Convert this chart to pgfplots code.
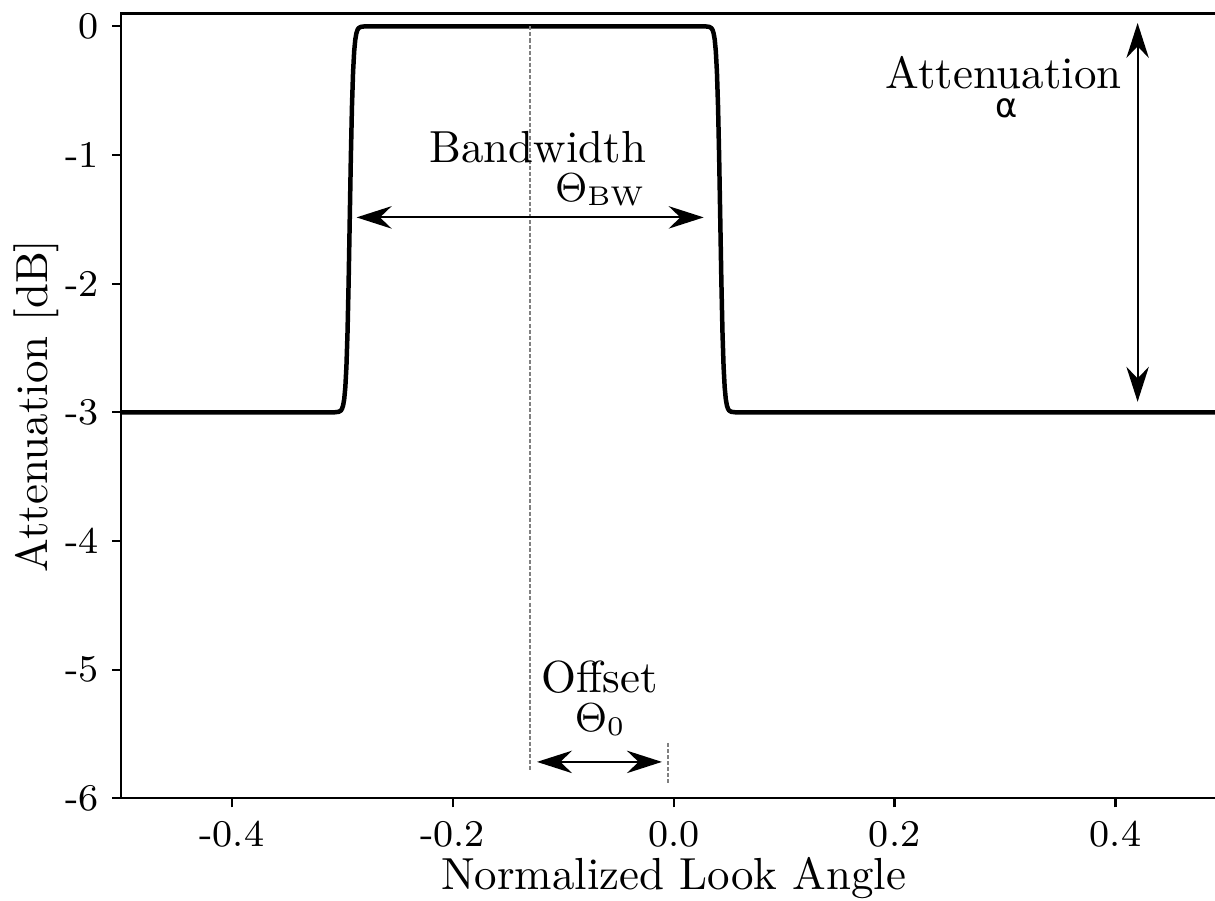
\documentclass[border=0pt]{standalone}
\usepackage{fontspec}
\newfontfamily\dejavu{DejaVu Sans}
\usepackage{pgfplots}
\usepackage{pgfplotstable}
\pgfplotsset{compat=1.18}
\usetikzlibrary{arrows.meta}

% Beam response of the window: -3 dB outside, 0 dB inside, with smooth edges
\pgfplotstableread{
x y
-0.5000 -3.000
-0.3072 -3.000
-0.3032 -2.996
-0.3012 -2.986
-0.3002 -2.972
-0.2992 -2.946
-0.2982 -2.897
-0.2972 -2.805
-0.2962 -2.643
-0.2952 -2.375
-0.2942 -1.982
-0.2932 -1.500
-0.2922 -1.018
-0.2912 -0.625
-0.2902 -0.357
-0.2892 -0.195
-0.2882 -0.104
-0.2872 -0.054
-0.2862 -0.028
-0.2852 -0.014
-0.2832 -0.004
-0.2792 0.000
0.0282 0.000
0.0322 -0.004
0.0342 -0.014
0.0352 -0.028
0.0362 -0.054
0.0372 -0.104
0.0382 -0.195
0.0392 -0.357
0.0402 -0.625
0.0412 -1.018
0.0422 -1.500
0.0432 -1.982
0.0442 -2.375
0.0452 -2.643
0.0462 -2.805
0.0472 -2.897
0.0482 -2.946
0.0492 -2.972
0.0502 -2.986
0.0522 -2.996
0.0562 -3.000
0.5000 -3.000
}\response

\tikzset{dim arrow/.style={line width=0.45pt,
  {Stealth[length=7.8pt,width=5pt,inset=2.6pt]}-{Stealth[length=7.8pt,width=5pt,inset=2.6pt]}},
  guide/.style={gray, line width=0.3pt, dash pattern=on 0.9pt off 0.45pt}}

\begin{document}
\begin{tikzpicture}
\begin{axis}[
  scale only axis, width=245.9pt, height=174.7pt,
  xmin=-0.5, xmax=0.5, ymin=-6, ymax=0.1,
  axis line style={line width=0.5pt},
  tick align=outside, major tick length=2pt,
  tick pos=left,
  tick style={line width=0.5pt, black},
  xtick={-0.4,-0.2,0,0.2,0.4}, xticklabels={-0.4,-0.2,0.0,0.2,0.4},
  ytick={-6,-5,-4,-3,-2,-1,0}, yticklabels={-6,-5,-4,-3,-2,-1,0},
  ticklabel style={font=\fontsize{8.4}{10}\selectfont, inner sep=0pt},
  xticklabel style={yshift=-2.9pt},
  yticklabel style={xshift=-2.8pt},
  clip=false,
]
\addplot[black, line width=1pt, line join=round] table[x=x, y=y] {\response};

% guide lines at the window centre and at zero
\draw[guide] (axis cs:-0.13,0) -- (axis cs:-0.13,-5.79);
\draw[guide] (axis cs:-0.005,-5.57) -- (axis cs:-0.005,-5.88);

% dimension arrows
\draw[dim arrow] (axis cs:-0.287,-1.485) -- (axis cs:0.0272,-1.485);
\draw[dim arrow] (axis cs:0.42,0.026) -- (axis cs:0.42,-2.918);
\draw[dim arrow] (axis cs:-0.1237,-5.717) -- (axis cs:-0.0106,-5.717);

% annotations
\node[anchor=base east, inner sep=0pt] at (axis cs:-0.0242,-1.058) {Bandwidth};
\node[anchor=base east, inner sep=0pt, font=\fontsize{8.6}{10}\selectfont] at (axis cs:-0.0245,-1.359) {$\Theta_{\mathrm{BW}}$};
\node[anchor=base east, inner sep=0pt] at (axis cs:0.4063,-0.484) {Attenuation};
\node[anchor=base, inner sep=0pt, font=\dejavu\fontsize{7.5}{9}\selectfont] at (axis cs:0.301,-0.709) {α};
\node[anchor=base, inner sep=0pt] at (axis cs:-0.067,-5.181) {Offset};
\node[anchor=base, inner sep=0pt, font=\fontsize{8.6}{10}\selectfont] at (axis cs:-0.0663,-5.479) {$\Theta_0$};

\coordinate (SW) at (rel axis cs:0,0);
\coordinate (NE) at (rel axis cs:1,1);
\coordinate (ML) at (rel axis cs:0,0.5);
\coordinate (BM) at (rel axis cs:0.5,0);
\end{axis}
\node[rotate=90, anchor=base, inner sep=0pt] at ([xshift=-16.5pt]ML) {Attenuation [dB]};
\node[anchor=base, inner sep=0pt] at ([yshift=-20.4pt]BM) {Normalized Look Angle};
\pgfresetboundingbox
\path[use as bounding box] ([xshift=-27pt,yshift=-22.8pt]SW) rectangle ([xshift=-2.45pt,yshift=3pt]NE);
\end{tikzpicture}
\end{document}
